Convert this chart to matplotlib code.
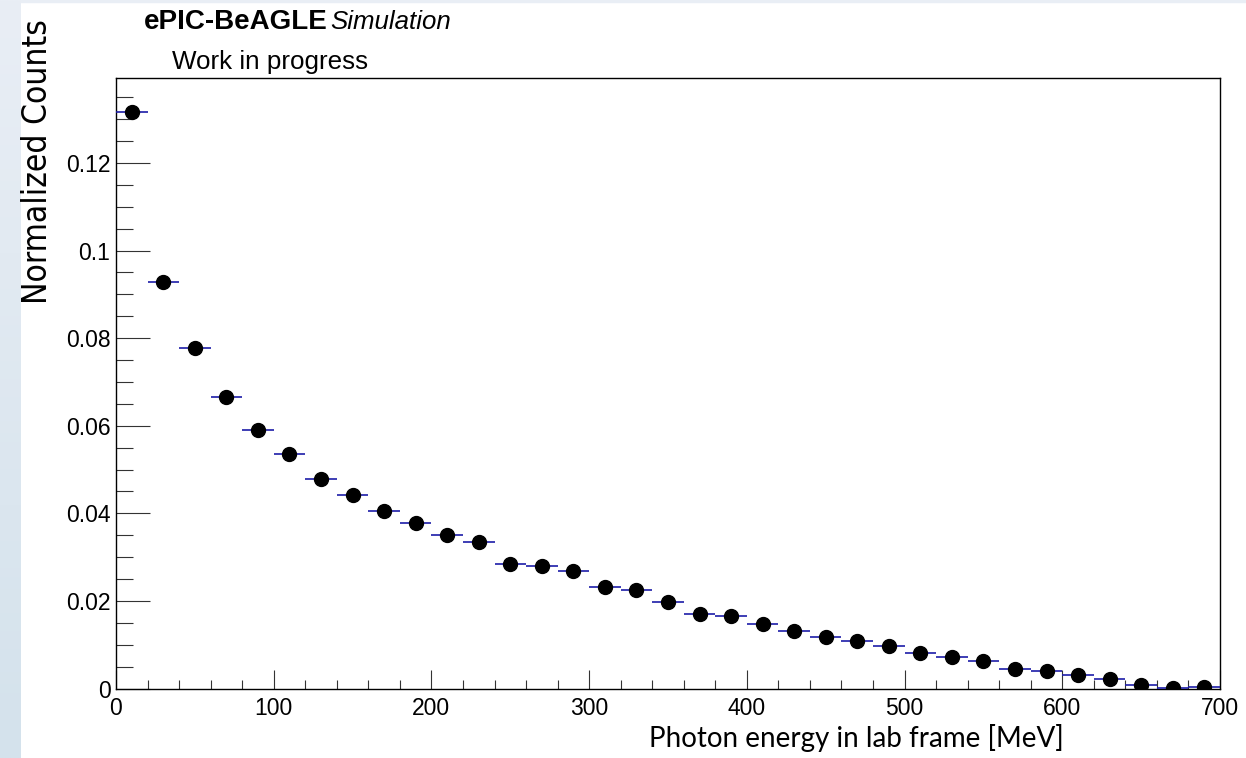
"""Photon energy spectrum, ROOT-style histogram with bin-width error bars."""

import numpy as np
import matplotlib.pyplot as plt
from matplotlib.colors import LinearSegmentedColormap
from matplotlib.ticker import MultipleLocator, FuncFormatter

# bin centres [MeV] and normalised counts
bin_width = 20
energy = np.arange(10, 700, bin_width)
counts = [
    0.1316, 0.0929, 0.0777, 0.0665, 0.0590, 0.0535, 0.0478, 0.0442, 0.0406,
    0.0377, 0.0350, 0.0334, 0.0284, 0.0280, 0.0269, 0.0231, 0.0226, 0.0197,
    0.0170, 0.0166, 0.0148, 0.0132, 0.0118, 0.0108, 0.0096, 0.0080, 0.0071,
    0.0063, 0.0045, 0.0040, 0.0031, 0.0021, 0.0009, 0.0002, 0.0003,
]

W, H = 1246, 758
fig = plt.figure(figsize=(W / 100, H / 100), dpi=100)

# slide background strip on the left
bg = fig.add_axes([0, 0, 21 / W, 1])
grad = np.linspace(0, 1, 256).reshape(-1, 1)
bg.imshow(grad, aspect="auto", origin="lower", extent=[0, 1, 0, 1],
          cmap=LinearSegmentedColormap.from_list("slide", ["#d4e2ec", "#e9eef5"]))
bg.axis("off")
fig.patches.append(plt.Rectangle((0, 1 - 2 / H), 1, 2 / H, transform=fig.transFigure,
                                 color="#e9eef5", zorder=-1))

ax = fig.add_axes([116 / W, (H - 688.5) / H, (1220 - 116) / W, (688.5 - 78) / H])
ax.errorbar(energy, counts, xerr=bin_width / 2, fmt="o", color="black",
            ecolor="#1c1ca8", elinewidth=1.2, markersize=10, capsize=0, zorder=3)
ax.set_xlim(0, 700)
ax.set_ylim(0, 0.1394)

ax.xaxis.set_major_locator(MultipleLocator(100))
ax.xaxis.set_minor_locator(MultipleLocator(20))
ax.yaxis.set_major_locator(MultipleLocator(0.02))
ax.yaxis.set_minor_locator(MultipleLocator(0.005))
ax.yaxis.set_major_formatter(FuncFormatter(lambda v, p: f"{v:g}"))

ax.tick_params(axis="both", which="both", direction="in", color="#333333",
               width=0.8, labelsize=16.5)
ax.tick_params(axis="y", which="major", length=24.5, pad=4)
ax.tick_params(axis="y", which="minor", length=12.2)
ax.tick_params(axis="x", which="major", length=13.7, pad=6)
ax.tick_params(axis="x", which="minor", length=6.8)
for lab in ax.get_xticklabels() + ax.get_yticklabels():
    lab.set_fontfamily("Liberation Sans")
for s in ax.spines.values():
    s.set_linewidth(1.0)

# header texts
fig.text(144 / W, 1 - 22 / H, "ePIC-BeAGLE", family="Liberation Sans",
         weight="bold", size=20, va="center", ha="left")
fig.text(330 / W, 1 - 22 / H, "Simulation", family="Liberation Sans",
         style="italic", size=18.6, va="center", ha="left")
fig.text(172 / W, 1 - 62 / H, "Work in progress", family="Liberation Sans",
         size=18.7, va="center", ha="left")

# axis titles added on the slide
fig.text(856 / W, 1 - 738 / H, "Photon energy in lab frame [MeV]",
         family="Lato", size=20, va="center", ha="center")
fig.text(38 / W, 1 - 161.5 / H, "Normalized Counts", family="DejaVu Sans",
         stretch="condensed", size=24, va="center", ha="center", rotation=90)

fig.savefig("out.png", dpi=100)
